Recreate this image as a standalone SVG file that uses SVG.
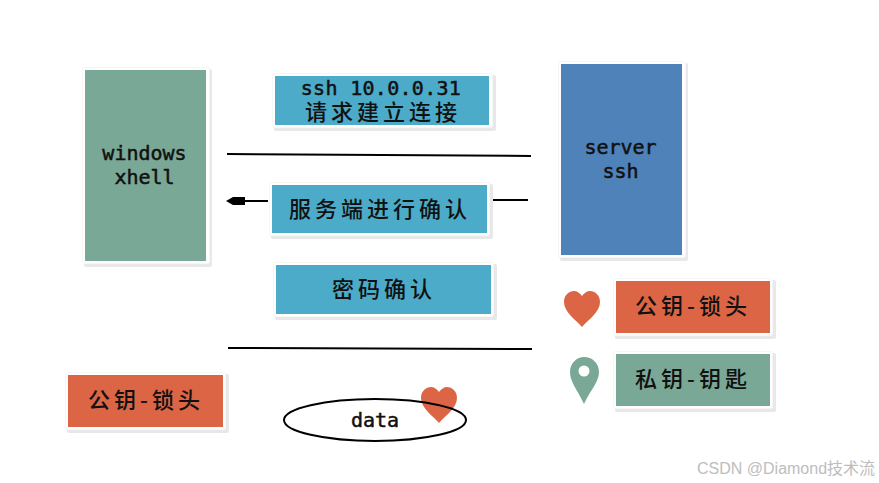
<svg xmlns="http://www.w3.org/2000/svg" width="879" height="483" viewBox="0 0 879 483">
<style>
.sh{fill:#e8e8e8}
.fr{fill:#fff;stroke:#f6f6f6;stroke-width:1}
.g{fill:#7aa896}.b{fill:#4babc8}.s{fill:#4e82b8}.o{fill:#dc6545}
.m{font-family:"DejaVu Sans Mono","Liberation Mono",monospace;font-size:20px;fill:#111;stroke:#111;stroke-width:.5;text-anchor:middle}
.c{font-family:"Noto Sans CJK SC","Noto Sans",sans-serif;font-size:22px;font-weight:500;letter-spacing:4px;fill:#111;text-anchor:middle}
.l{fill:none;stroke:#000;stroke-width:2}
</style>
<defs>
<path id="heart" d="M18 36C12 29 0 21 0 11C0 4 5 0 10 0C13 0 16 2 18 5C20 2 23 0 26 0C31 0 36 4 36 11C36 21 24 29 18 36Z"/>
</defs>
<g id="connectors">
<path class="l" d="M227 154L531 156"/>
<path class="l" d="M268 201H245"/>
<path d="M226 201L233 197H245V205H233Z" fill="#000"/>
<path class="l" d="M492 200H528"/>
<path class="l" d="M228 348L532 349"/>
</g>
<g id="windows"><rect class="sh" x="84" y="69" width="128" height="198" rx="2"/><rect class="fr" x="82.500" y="67.500" width="127" height="196" rx="2"/><rect class="g" x="85" y="70" width="121" height="191"/><text class="m" x="144.500" y="160">windows</text><text class="m" x="144.500" y="184">xhell</text></g>
<g id="ssh-request"><rect class="sh" x="274" y="75" width="222" height="56" rx="2"/><rect class="fr" x="272.500" y="73.500" width="220" height="54" rx="2"/><rect class="b" x="275" y="76" width="214" height="49"/><text class="m" x="381" y="95" style="letter-spacing:0.300px">ssh 10.0.0.31</text><text class="c" x="383" y="120">请求建立连接</text></g>
<g id="server-confirm"><rect class="sh" x="271" y="184" width="222" height="55" rx="2"/><rect class="fr" x="269.500" y="182.500" width="220" height="53" rx="2"/><rect class="b" x="272" y="185" width="215" height="48"/><text class="c" x="380" y="217">服务端进行确认</text></g>
<g id="password-confirm"><rect class="sh" x="275" y="264" width="222" height="56" rx="2"/><rect class="fr" x="273.500" y="262.500" width="220" height="54" rx="2"/><rect class="b" x="276" y="265" width="215" height="49"/><text class="c" x="384" y="297">密码确认</text></g>
<g id="server"><rect class="sh" x="560" y="63" width="128" height="198" rx="2"/><rect class="fr" x="558.500" y="61.500" width="127" height="196" rx="2"/><rect class="s" x="561" y="64" width="121" height="191"/><text class="m" x="620.500" y="154">server</text><text class="m" x="620.500" y="178">ssh</text></g>
<g id="public-key-icon"><use href="#heart" class="o" x="564" y="291"/></g>
<g id="public-key"><rect class="sh" x="615" y="280" width="161" height="59" rx="2"/><rect class="fr" x="613.500" y="278.500" width="159" height="57" rx="2"/><rect class="o" x="616" y="281" width="154" height="52"/><text class="c" x="693" y="314">公钥-锁头</text></g>
<g id="private-key-icon"><path class="g" fill-rule="evenodd" d="M584 404C577 389 570 382 570 372C570 363 577 357 584 357C592 357 599 363 599 372C599 382 591 389 584 404ZM584 365.500A5.500 5.500 0 1 0 584 376.500A5.500 5.500 0 1 0 584 365.500Z"/></g>
<g id="private-key"><rect class="sh" x="615" y="353" width="161" height="59" rx="2"/><rect class="fr" x="613.500" y="351.500" width="159" height="57" rx="2"/><rect class="g" x="616" y="354" width="154" height="52"/><text class="c" x="693" y="387">私钥-钥匙</text></g>
<g id="public-key-client"><rect class="sh" x="67" y="374" width="162" height="59" rx="2"/><rect class="fr" x="65.500" y="372.500" width="160" height="57" rx="2"/><rect class="o" x="68" y="375" width="155" height="52"/><text class="c" x="146" y="408">公钥-锁头</text></g>
<g id="data"><use href="#heart" class="o" x="421" y="387"/><ellipse cx="375" cy="420" rx="91" ry="21" fill="none" stroke="#000" stroke-width="2"/><text class="m" x="375" y="427">data</text></g>
<text x="697" y="474" font-family="Liberation Sans,Noto Sans CJK SC,sans-serif" font-size="16" fill="#bdbdbd">CSDN @Diamond技术流</text>
</svg>
